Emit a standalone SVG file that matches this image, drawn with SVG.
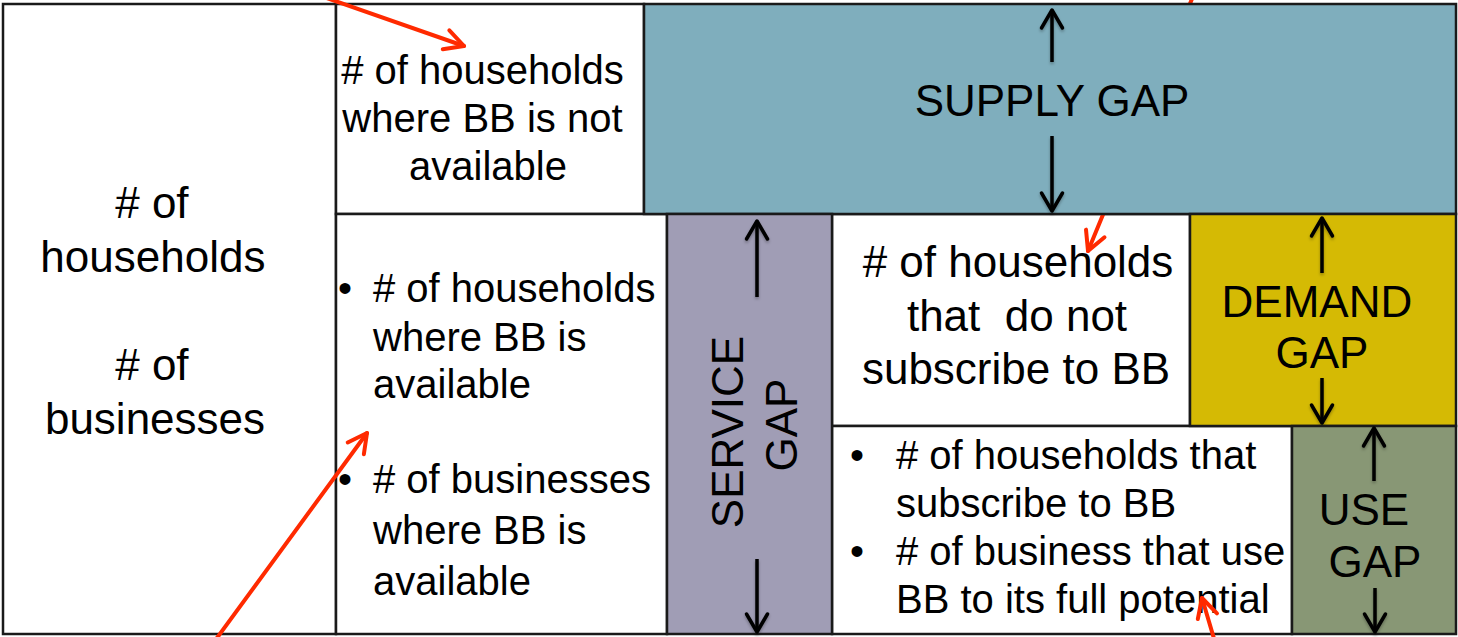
<svg xmlns="http://www.w3.org/2000/svg" width="1458" height="637" viewBox="0 0 1458 637">
  <style>
    .box { stroke: #1a1a1a; stroke-width: 2.5; }
    .white { fill: #ffffff; }
    .supply { fill: #7FAEBD; }
    .service { fill: #A09DB5; }
    .demand { fill: #D5BA04; }
    .use { fill: #889775; }
    text { font-family: "Liberation Sans", Arial, sans-serif; fill: #000; }
    .t40 { font-size: 40px; }
    .t44 { font-size: 44px; }
    .mid { text-anchor: middle; }
    .gaparrow { stroke: #000; stroke-width: 3.5; fill: none; marker-end: url(#headBlack); }
    .note { stroke: #FF2A00; stroke-width: 4; fill: none; stroke-linecap: round; marker-end: url(#headRed); }
  </style>
  <defs>
    <marker id="headBlack" markerUnits="userSpaceOnUse" markerWidth="26" markerHeight="26" viewBox="0 0 26 26" refX="21" refY="13" orient="auto">
      <path d="M3,2.5 L21,13 L3,23.5" fill="none" stroke="#000" stroke-width="3.5" stroke-linecap="round" stroke-linejoin="round"/>
    </marker>
    <marker id="headRed" markerUnits="userSpaceOnUse" markerWidth="28" markerHeight="28" viewBox="0 0 28 28" refX="23" refY="14" orient="auto">
      <path d="M4,4 L23,14 L4,24" fill="none" stroke="#FF2A00" stroke-width="4" stroke-linecap="round" stroke-linejoin="round"/>
    </marker>
    <!-- soft halo under the gap arrows; region in user space so thin vertical lines keep it -->
    <filter id="soft" filterUnits="userSpaceOnUse" x="0" y="0" width="1458" height="637">
      <feDropShadow dx="0" dy="2" stdDeviation="1.6" flood-color="#000" flood-opacity="0.3"/>
    </filter>
  </defs>

  <!-- white count cells -->
  <g id="all-units">
    <rect class="box white" x="3" y="4" width="333" height="630"/>
    <text class="t44 mid">
      <tspan x="158" y="218"># of</tspan>
      <tspan x="159" y="272">households</tspan>
      <tspan x="158" y="380"># of</tspan>
      <tspan x="155" y="434">businesses</tspan>
    </text>
  </g>

  <g id="bb-not-available">
    <rect class="box white" x="336" y="4" width="308" height="210"/>
    <text class="t40 mid">
      <tspan x="488" y="84"># of households</tspan>
      <tspan x="488" y="132">where BB is not</tspan>
      <tspan x="488" y="180">available</tspan>
    </text>
  </g>

  <g id="bb-available">
    <rect class="box white" x="336" y="214" width="331" height="420"/>
    <text class="t40" x="338" y="302">•</text>
    <text class="t40">
      <tspan x="373" y="302"># of households</tspan>
      <tspan x="373" y="351">where BB is</tspan>
      <tspan x="373" y="398">available</tspan>
    </text>
    <text class="t40" x="338" y="493">•</text>
    <text class="t40">
      <tspan x="373" y="493"># of businesses</tspan>
      <tspan x="373" y="544">where BB is</tspan>
      <tspan x="373" y="595">available</tspan>
    </text>
  </g>

  <g id="not-subscribing">
    <rect class="box white" x="832" y="214" width="358" height="212"/>
    <text class="t44 mid" xml:space="preserve"><tspan x="1018" y="277"># of households</tspan><tspan x="1017" y="331">that  do not</tspan><tspan x="1016" y="384">subscribe to BB</tspan></text>
  </g>

  <g id="subscribing">
    <rect class="box white" x="832" y="426" width="460" height="208"/>
    <text class="t40" x="850" y="469">•</text>
    <text class="t40">
      <tspan x="896" y="469"># of households that</tspan>
      <tspan x="896" y="517">subscribe to BB</tspan>
    </text>
    <text class="t40" x="850" y="565">•</text>
    <text class="t40">
      <tspan x="896" y="565"># of business that use</tspan>
      <tspan x="896" y="613">BB to its full potential</tspan>
    </text>
  </g>

  <!-- red annotation arrows -->
  <g id="connectors">
    <line class="note" x1="318" y1="-5" x2="464" y2="46"/>
    <line class="note" x1="214" y1="642" x2="367" y2="433"/>
    <line class="note" x1="1194" y1="-6" x2="1088" y2="251"/>
    <line class="note" x1="1215" y1="642" x2="1202" y2="598"/>
  </g>

  <!-- coloured gap cells -->
  <g id="supply-gap">
    <rect class="box supply" x="644" y="4" width="812" height="210"/>
    <text class="t44 mid" x="1052" y="116">SUPPLY GAP</text>
    <g filter="url(#soft)">
      <line class="gaparrow" x1="1052" y1="62" x2="1052" y2="10"/>
      <line class="gaparrow" x1="1052" y1="136" x2="1052" y2="211"/>
    </g>
  </g>

  <g id="service-gap">
    <rect class="box service" x="667" y="214" width="165" height="420"/>
    <text class="t44 mid" transform="translate(743,432) rotate(-90)" x="0" y="0">SERVICE</text>
    <text class="t44 mid" transform="translate(797,425) rotate(-90)" x="0" y="0">GAP</text>
    <g filter="url(#soft)">
      <line class="gaparrow" x1="757" y1="297" x2="757" y2="221"/>
      <line class="gaparrow" x1="757" y1="559" x2="757" y2="632"/>
    </g>
  </g>

  <g id="demand-gap">
    <rect class="box demand" x="1190" y="214" width="266" height="212"/>
    <text class="t44 mid">
      <tspan x="1323" y="317">DEMAND</tspan>
      <tspan x="1322" y="368">GAP</tspan>
    </text>
    <g filter="url(#soft)">
      <line class="gaparrow" x1="1322" y1="273" x2="1322" y2="218"/>
      <line class="gaparrow" x1="1322" y1="378" x2="1322" y2="423"/>
    </g>
  </g>

  <g id="use-gap">
    <rect class="box use" x="1292" y="426" width="164" height="208"/>
    <text class="t44 mid">
      <tspan x="1370" y="525">USE</tspan>
      <tspan x="1375" y="577">GAP</tspan>
    </text>
    <g filter="url(#soft)">
      <line class="gaparrow" x1="1374" y1="481" x2="1374" y2="428"/>
      <line class="gaparrow" x1="1375" y1="588" x2="1375" y2="632"/>
    </g>
  </g>
</svg>
